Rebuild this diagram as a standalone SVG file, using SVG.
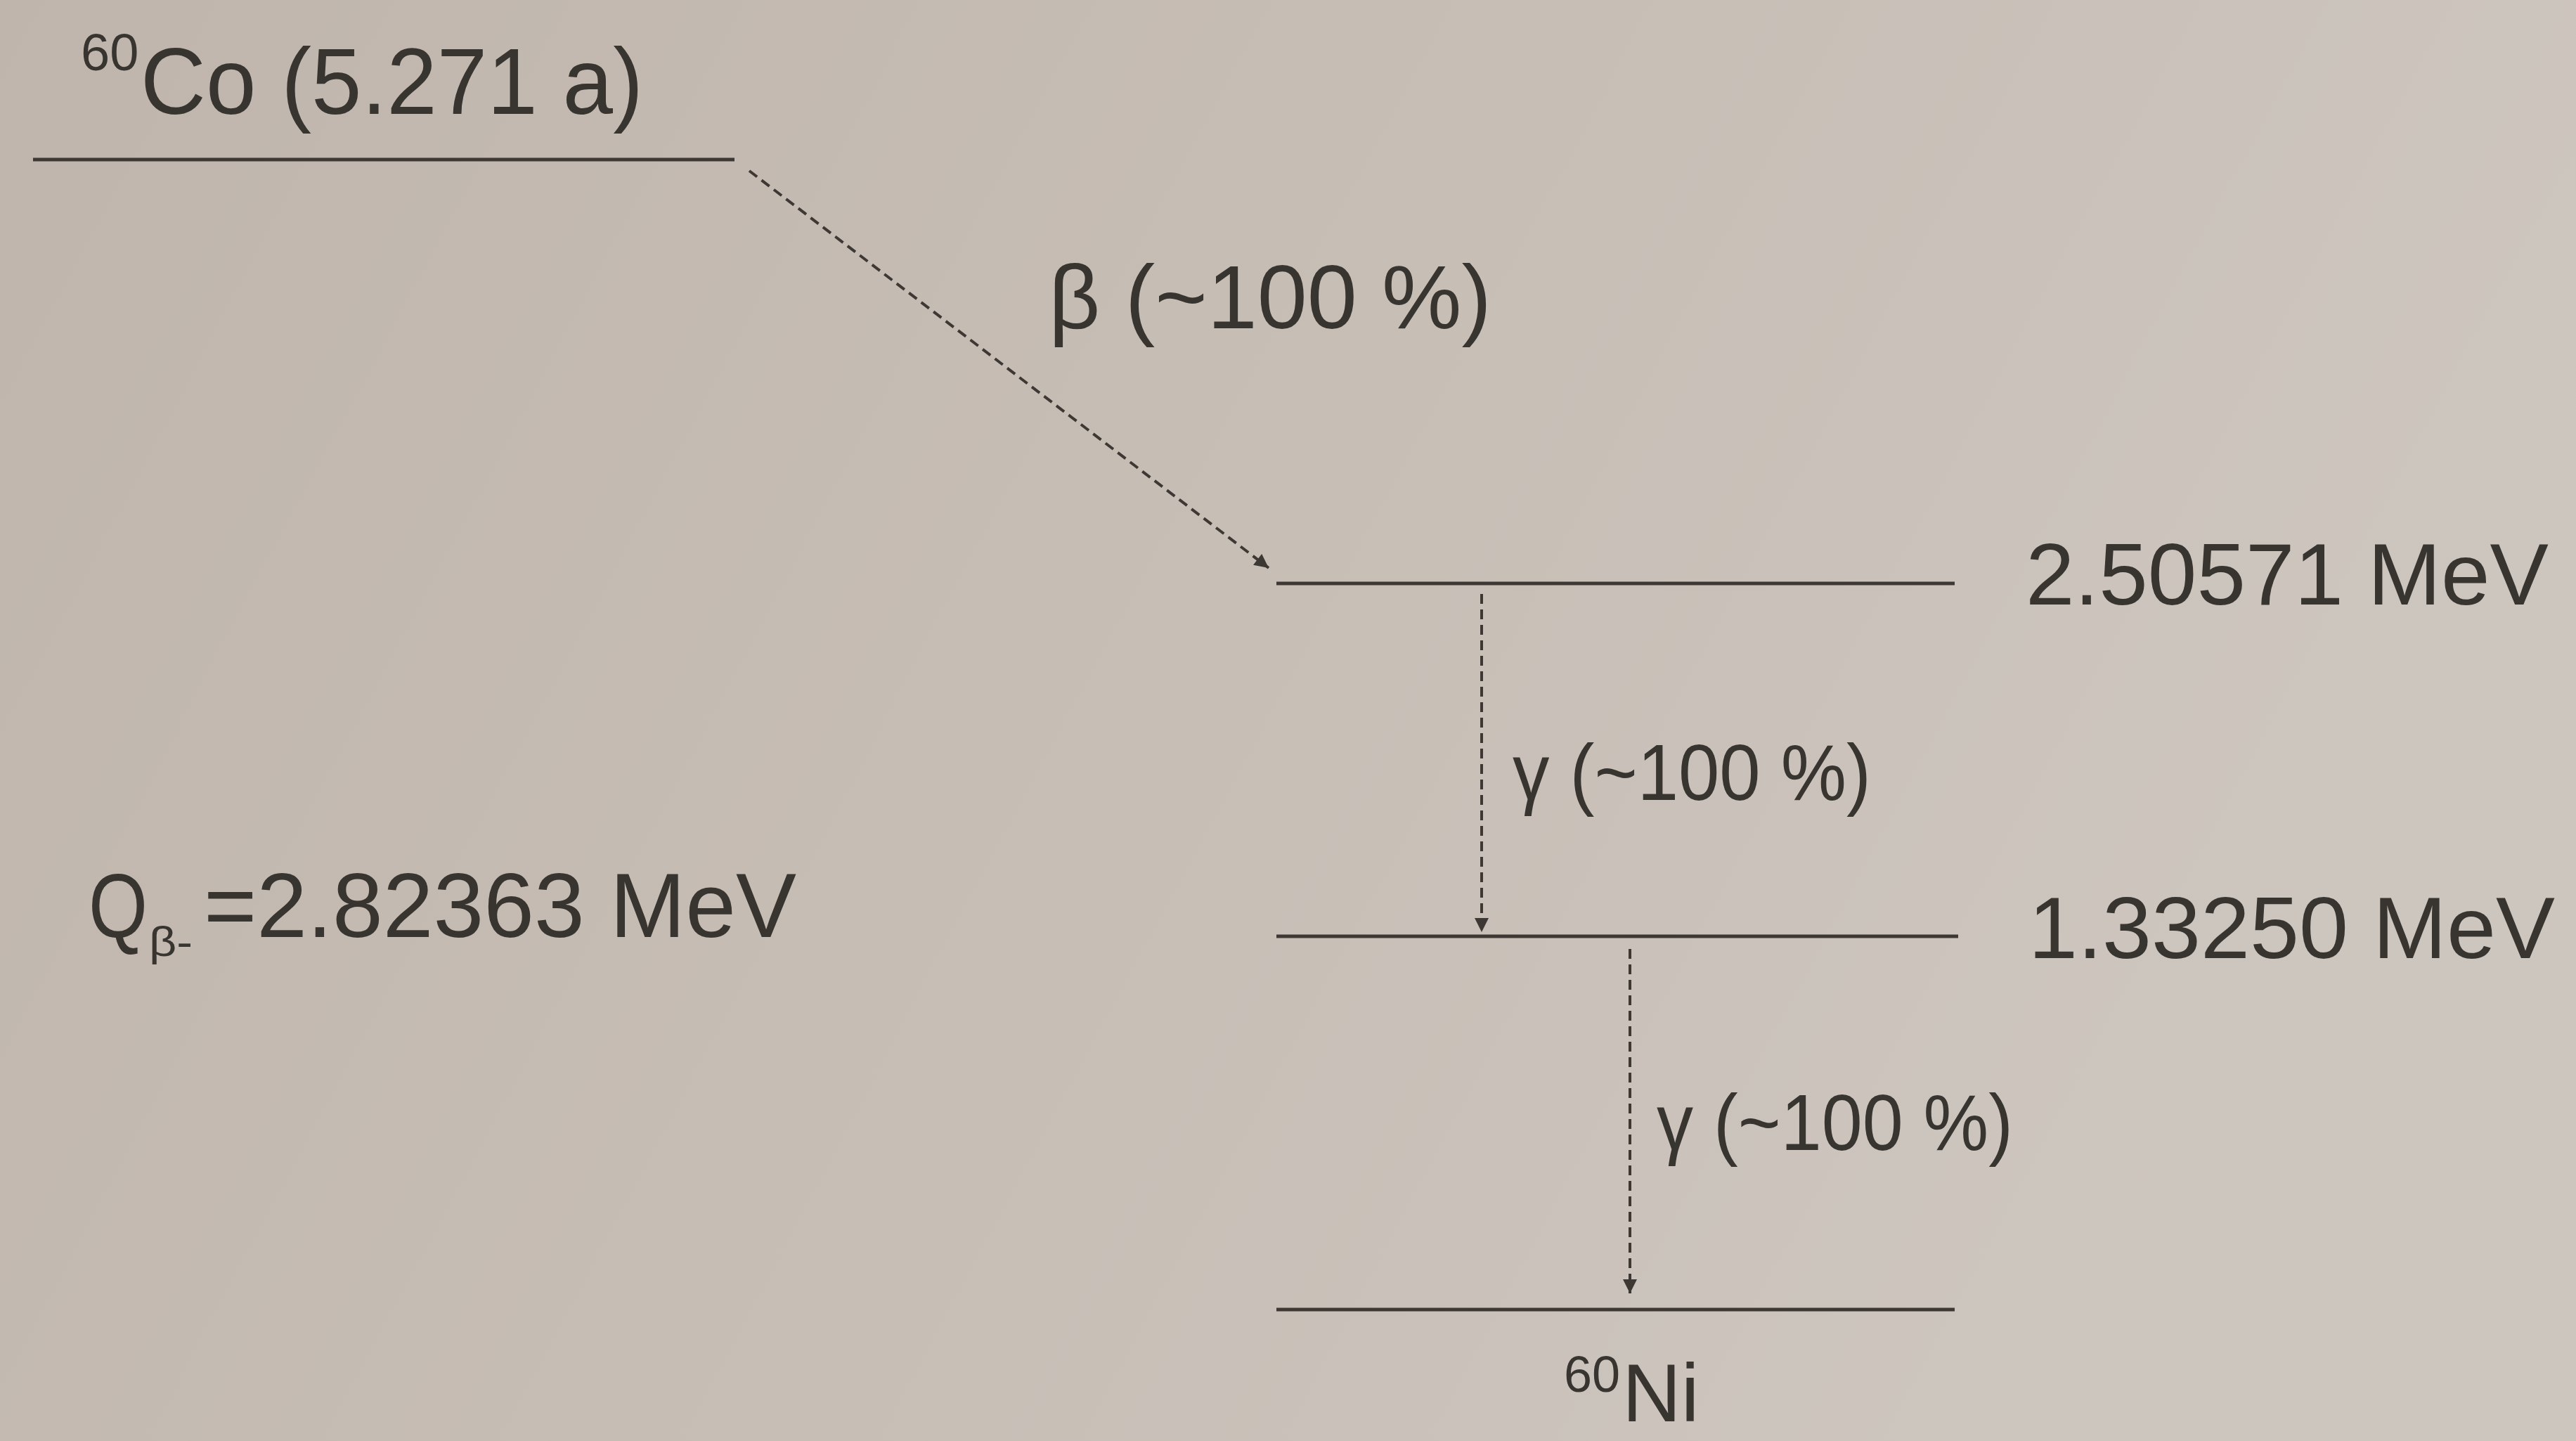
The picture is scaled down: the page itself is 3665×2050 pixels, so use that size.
<svg xmlns="http://www.w3.org/2000/svg" width="3665" height="2050" viewBox="0 0 3665 2050">
  <style>
    .lvl { stroke: #3d3833; stroke-width: 5; fill: none; }
    .tr { stroke: #3d3833; stroke-width: 4; fill: none; stroke-dasharray: 14 8; }
    .t { font-family: "Liberation Sans", Arial, sans-serif; fill: #38342f; }
  </style>
  <defs>
    <linearGradient id="bg" x1="0" y1="0" x2="1" y2="0.3">
      <stop offset="0" stop-color="#bfb5ac"/>
      <stop offset="0.5" stop-color="#c6bdb4"/>
      <stop offset="1" stop-color="#cdc6bf"/>
    </linearGradient>
    <marker id="ah" viewBox="0 0 10 10" refX="10" refY="5" markerWidth="26" markerHeight="20" markerUnits="userSpaceOnUse" orient="auto">
      <path d="M0,0 L10,5 L0,10 z" fill="#3d3833"/>
    </marker>
  </defs>
  <rect x="0" y="0" width="3665" height="2050" fill="url(#bg)"/>

  <g id="level-co60">
    <line class="lvl" x1="47" y1="227" x2="1045" y2="227"/>
    <text class="t" x="115" y="100" font-size="74">60</text>
    <text class="t" x="200" y="162" font-size="133" textLength="715" lengthAdjust="spacingAndGlyphs">Co (5.271 a)</text>
  </g>

  <g id="level-2505">
    <line class="lvl" x1="1816" y1="830" x2="2781" y2="830"/>
    <text class="t" x="2882" y="860" font-size="124" textLength="744" lengthAdjust="spacingAndGlyphs">2.50571 MeV</text>
  </g>

  <g id="level-1332">
    <line class="lvl" x1="1816" y1="1332" x2="2786" y2="1332"/>
    <text class="t" x="2886" y="1363" font-size="124" textLength="749" lengthAdjust="spacingAndGlyphs">1.33250 MeV</text>
  </g>

  <g id="level-ni60">
    <line class="lvl" x1="1816" y1="1863" x2="2781" y2="1863"/>
    <text class="t" x="2225" y="1980" font-size="72">60</text>
    <text class="t" x="2308" y="2022" font-size="116">Ni</text>
  </g>

  <g id="q-value">
    <text class="t" font-size="130"><tspan x="126" y="1333" textLength="84" lengthAdjust="spacingAndGlyphs">Q</tspan><tspan x="212" y="1360" font-size="60" textLength="62" lengthAdjust="spacingAndGlyphs">β-</tspan><tspan x="290" y="1333" textLength="843" lengthAdjust="spacingAndGlyphs">=2.82363 MeV</tspan></text>
  </g>

  <g id="connectors">
    <line class="tr" x1="1066" y1="243" x2="1805" y2="808" marker-end="url(#ah)"/>
    <line class="tr" x1="2108" y1="845" x2="2108" y2="1326" marker-end="url(#ah)"/>
    <line class="tr" x1="2319" y1="1350" x2="2319" y2="1840" marker-end="url(#ah)"/>
    <text class="t" x="1492" y="467" font-size="128" textLength="630" lengthAdjust="spacingAndGlyphs">β (~100 %)</text>
    <text class="t" x="2152" y="1138" font-size="114" textLength="510" lengthAdjust="spacingAndGlyphs">γ (~100 %)</text>
    <text class="t" x="2357" y="1636" font-size="114" textLength="507" lengthAdjust="spacingAndGlyphs">γ (~100 %)</text>
  </g>
</svg>
